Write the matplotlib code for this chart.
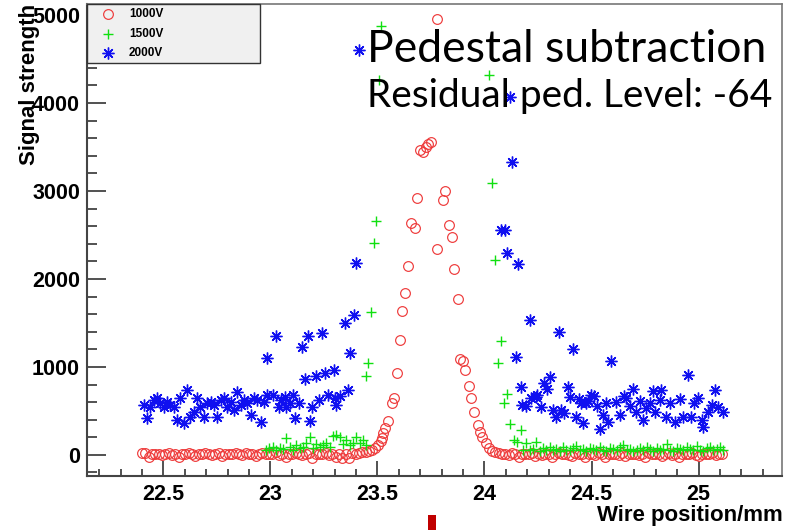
import numpy as np
import matplotlib
matplotlib.use('Agg')
import matplotlib.pyplot as plt
from matplotlib.lines import Line2D
from matplotlib.patches import Rectangle
from matplotlib.ticker import MultipleLocator

plt.rcParams['font.family'] = ['Liberation Sans', 'DejaVu Sans']

pitch = 0.0156  # wire pitch (mm) of the flat runs

# ---------------- 1000V ----------------
red_left_x0 = 22.40
red_left_y = [20, 25, -20, 10, 5, 15, -5, 10, 20, 0,
              10, -25, 15, 5, 20, 10, -10, 15, 5, 25,
              10, 0, 15, 20, -15, 10, 5, 15, 20, 10,
              0, 25, 15, 5, -10, 10, 20, 15, 5, 10,
              30, 0, 15, -20, 10, 5, 20, 15, 0, 10,
              25, -30, 5, 15, 10, 20, 0, 15, -25, 10,
              -40, 5, -30, 25, 10, 20, 30, 35]
red_peak_x = [23.460, 23.473, 23.488, 23.504, 23.515, 23.520, 23.527, 23.536, 23.551, 23.567,
              23.579, 23.593, 23.606, 23.613, 23.630, 23.645, 23.656, 23.676, 23.684, 23.700,
              23.712, 23.725, 23.738, 23.748, 23.778, 23.778, 23.806, 23.817, 23.836, 23.848,
              23.859, 23.875, 23.887, 23.898, 23.911, 23.926, 23.938, 23.950, 23.970, 23.980,
              23.990, 24.005, 24.020, 24.035]
red_peak_y = [45, 57, 76, 114, 160, 195, 246, 300, 390, 587,
              644, 928, 1307, 1640, 1837, 2151, 2640, 2576, 2916, 3470,
              3440, 3500, 3530, 3560, 4951, 2340, 2898, 3005, 2614, 2481,
              2118, 1775, 1087, 1072, 966, 780, 650, 485, 341, 260,
              208, 133, 76, 45]
red_right_x0 = 24.05
red_right_y = [30, 20, 10, 15, 0, 20, 5, -20, 10, 15,
               5, 20, -15, 10, 0, 15, 5, -25, 10, 20,
               5, 15, 0, -10, 20, 10, 5, -20, 15, 10,
               0, 20, 5, -25, 10, 15, 5, 0, 20, -15,
               10, 5, 15, 0, 10, -20, 20, 5, 10, 15,
               -10, 5, 20, 0, 10, -25, 15, 5, 10, 20,
               0, -15, 10, 5, 15, 20, 0, 10, 15]

# ---------------- 1500V ----------------
green_left_x0 = 22.98
green_left_y = [60, 75, 90, 55, 80, 70, 190, 85, 60, 110,
                75, 95, 130, 205, 80, 120, 95, 110, 140, 90,
                215, 225, 205, 120, 170, 110, 140, 200, 130, 170, 110]
green_peak_x = [23.445, 23.457, 23.470, 23.484, 23.494, 23.508, 23.518,
                24.023, 24.036, 24.047, 24.062, 24.075, 24.090, 24.103, 24.118,
                24.137, 24.153, 24.172]
green_peak_y = [900, 1045, 1620, 2405, 2660, 4260, 4875,
                4318, 3090, 2210, 1042, 1299, 587, 690, 352,
                170, 151, 284]
green_right_x0 = 24.18
green_right_y = [60, 140, 55, 70, 150, 45, 80, 60, 90, 50,
                 70, 40, 85, 60, 55, 75, 100, 50, 65, 45,
                 80, 70, 55, 90, 60, 40, 75, 65, 50, 85,
                 110, 55, 70, 45, 60, 80, 50, 95, 65, 40,
                 75, 55, 70, 120, 60, 45, 80, 65, 50, 90,
                 70, 55, 100, 60, 45, 75, 85, 50, 65, 90, 55]

# ---------------- 2000V ----------------
blue_left_x0 = 22.408
blue_left_y = [568, 417, 549, 625, 644, 587, 549, 606, 568, 549,
               398, 644, 360, 739, 436, 492, 644, 549, 436, 587,
               606, 568, 436, 625, 644, 549, 606, 511, 720, 568,
               625, 587, 455, 644, 625, 379, 606, 682]
blue_mid_x = [22.985, 23.011, 23.027, 23.042, 23.050, 23.066, 23.074, 23.090, 23.105, 23.113,
              23.133, 23.147, 23.163, 23.175, 23.186, 23.196, 23.215, 23.227, 23.240, 23.257,
              23.269, 23.297, 23.300, 23.308, 23.324, 23.347, 23.363, 23.374, 23.390, 23.402,
              23.413]
blue_mid_y = [1106, 682, 1356, 549, 625, 663, 549, 587, 682, 417,
              594, 1224, 864, 1356, 390, 549, 898, 625, 1383, 928,
              682, 966, 644, 568, 670, 1500, 739, 1156, 1595, 2180,
              4605]
blue_right_x = [24.075, 24.094, 24.103, 24.118, 24.128, 24.146, 24.156, 24.169, 24.177, 24.192,
                24.211, 24.216, 24.240, 24.247, 24.263, 24.278, 24.291, 24.307, 24.318, 24.333,
                24.346, 24.357, 24.372, 24.388, 24.400, 24.415, 24.427, 24.440, 24.451, 24.459,
                24.474, 24.485, 24.498, 24.513, 24.525, 24.538, 24.553, 24.568, 24.576, 24.592,
                24.615, 24.631, 24.654, 24.662, 24.678, 24.693, 24.709, 24.725, 24.740, 24.755,
                24.771, 24.786, 24.795, 24.818, 24.826, 24.850, 24.865, 24.889, 24.912, 24.928,
                24.952, 24.967, 24.980, 24.999, 25.014, 25.022, 25.045, 25.061, 25.077, 25.092,
                25.116]
blue_right_y = [2553, 2561, 2296, 4064, 3324, 1117, 2168, 776, 568, 560,
                1534, 644, 663, 682, 549, 818, 752, 886, 511, 436,
                1401, 511, 474, 776, 663, 1201, 426, 640, 587, 367,
                587, 610, 682, 666, 560, 294, 455, 587, 379, 1065,
                596, 455, 670, 644, 560, 747, 492, 610, 398, 530,
                587, 731, 492, 625, 739, 436, 593, 379, 633, 436,
                904, 436, 587, 644, 398, 314, 492, 568, 743, 549,
                492]

labels = ['1000V', '1500V', '2000V']
annot1 = 'Pedestal subtraction'
annot2 = 'Residual ped. Level: -64'

red_x = np.concatenate([red_left_x0 + pitch * np.arange(len(red_left_y)), red_peak_x,
                        red_right_x0 + pitch * np.arange(len(red_right_y))])
red_y = np.concatenate([red_left_y, red_peak_y, red_right_y])
green_x = np.concatenate([green_left_x0 + pitch * np.arange(len(green_left_y)), green_peak_x,
                          green_right_x0 + pitch * np.arange(len(green_right_y))])
green_y = np.concatenate([green_left_y, green_peak_y, green_right_y])
blue_x = np.concatenate([blue_left_x0 + pitch * np.arange(len(blue_left_y)), blue_mid_x, blue_right_x])
blue_y = np.concatenate([blue_left_y, blue_mid_y, blue_right_y])

W, H = 788, 530
fig = plt.figure(figsize=(W / 100, H / 100), dpi=100)
ax = fig.add_axes([87 / W, 1 - 476 / H, (782 - 87) / W, (476 - 4) / H])

red_c, green_c, blue_c = '#ee3a3a', '#10e010', '#1010f0'
ax.plot(red_x, red_y, linestyle='none', marker='o', ms=7.0, mfc='none', mec=red_c, mew=0.85)
ax.plot(green_x, green_y, linestyle='none', marker='+', ms=7.0, mec=green_c, mew=1.0)
ax.plot(blue_x, blue_y, linestyle='none', marker=(8, 2, 0), ms=8.5, mec=blue_c, mew=1.0)

ax.set_xlim(22.143, 25.39)
ax.set_ylim(-240, 5125)
ax.xaxis.set_minor_locator(MultipleLocator(0.1))
ax.yaxis.set_major_locator(MultipleLocator(1000))
ax.yaxis.set_minor_locator(MultipleLocator(200))
ax.set_xticks([22.5, 23, 23.5, 24, 24.5, 25])
ax.set_xticklabels(['22.5', '23', '23.5', '24', '24.5', '25'])

for s in ['top', 'right']:
    ax.spines[s].set_color('#777777')
    ax.spines[s].set_linewidth(1.2)
for s in ['left', 'bottom']:
    ax.spines[s].set_color('#444444')
    ax.spines[s].set_linewidth(1.5)

ax.tick_params(axis='both', which='both', direction='in', color='#333333', width=1.2,
               top=False, right=False, labelsize=15.5)
ax.tick_params(axis='x', which='major', length=11, pad=6)
ax.tick_params(axis='x', which='minor', length=5)
ax.tick_params(axis='y', which='major', length=14, pad=5)
ax.tick_params(axis='y', which='minor', length=7)
for lab in ax.get_xticklabels() + ax.get_yticklabels():
    lab.set_fontweight('bold')

fig.text(30 / W, 1 - 4 / H, 'Signal strength', rotation=90, ha='center', va='top',
         fontsize=16, fontweight='bold')
fig.text(783 / W, 1 - 521 / H, 'Wire position/mm', ha='right', va='baseline',
         fontsize=16, fontweight='bold')

# legend box
fig.add_artist(Rectangle((87 / W, 1 - 63 / H), (260 - 87) / W, 59 / H, transform=fig.transFigure,
                         facecolor='#f0f0f0', edgecolor='#333333', linewidth=1.0, zorder=5))
leg_y = [14, 34, 53]
styles = [dict(marker='o', ms=7.0, mfc='none', mec=red_c, mew=0.85),
          dict(marker='+', ms=7.5, mec=green_c, mew=1.0),
          dict(marker=(8, 2, 0), ms=8.5, mec=blue_c, mew=1.0)]
for yy, lab, st in zip(leg_y, labels, styles):
    fig.add_artist(Line2D([108 / W], [1 - yy / H], transform=fig.transFigure, linestyle='none',
                          zorder=6, **st))
    fig.text(129 / W, 1 - yy / H, lab, ha='left', va='center', fontsize=8.5, fontweight='bold',
             zorder=6)

fig.text(367 / W, 1 - 62 / H, annot1, ha='left', va='baseline', fontsize=32,
         family=['Lato', 'DejaVu Sans'], zorder=7)
fig.text(367 / W, 1 - 107 / H, annot2, ha='left', va='baseline', fontsize=28,
         family=['Lato', 'DejaVu Sans'], zorder=7)

# red slide marker at bottom
fig.add_artist(Rectangle((428 / W, 0), 8 / W, 15 / H, transform=fig.transFigure,
                         facecolor='#c00000', edgecolor='none', zorder=7))

fig.savefig('out.png', dpi=100)
